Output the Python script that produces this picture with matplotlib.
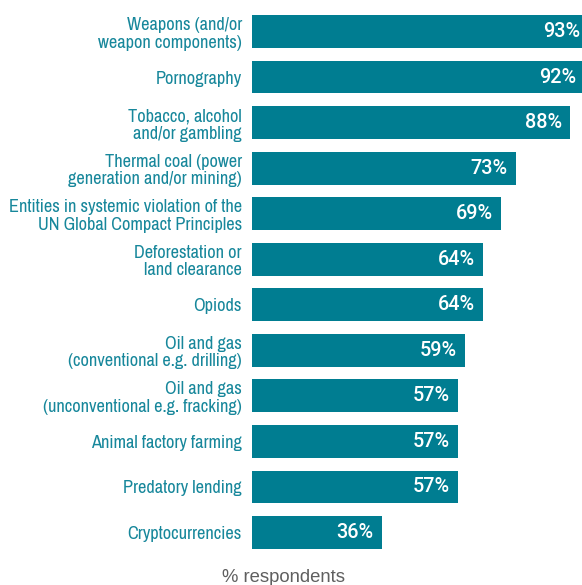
import matplotlib
matplotlib.use("Agg")
import matplotlib.pyplot as plt

# Survey results: share of respondents excluding each sector
categories = [
    "Weapons (and/or\nweapon components)",
    "Pornography",
    "Tobacco, alcohol\nand/or gambling",
    "Thermal coal (power\ngeneration and/or mining)",
    "Entities in systemic violation of the\nUN Global Compact Principles",
    "Deforestation or\nland clearance",
    "Opiods",
    "Oil and gas\n(conventional e.g. drilling)",
    "Oil and gas\n(unconventional e.g. fracking)",
    "Animal factory farming",
    "Predatory lending",
    "Cryptocurrencies",
]
values = [93, 92, 88, 73, 69, 64, 64, 59, 57, 57, 57, 36]
value_labels = [f"{v}%" for v in values]
axis_title = "% respondents"

BAR_COLOR = "#007d91"
LABEL_COLOR = "#17879b"
TITLE_COLOR = "#5f5f5f"

label_family = ["Archivo Narrow", "Liberation Sans", "DejaVu Sans"]

fig = plt.figure(figsize=(5.82, 5.85), dpi=100)
# axes spans the bar area; the right edge of the figure trims the longest bars
ax = fig.add_axes([252 / 582, 1 - 555.3 / 585, 1 - 252 / 582, 546.6 / 585])

y = list(range(len(categories)))
ax.barh(y, values, height=0.72, color=BAR_COLOR)

ax.set_xlim(0, 330 / 3.614)
ax.set_ylim(len(categories) - 0.5, -0.5)

ax.set_yticks(y)
ax.set_yticklabels(categories, family=label_family, fontsize=13.2,
                   color=LABEL_COLOR, linespacing=1.12)
ax.tick_params(axis="y", length=0, pad=7.3)
ax.set_xticks([])
for s in ax.spines.values():
    s.set_visible(False)

for yi, v, txt in zip(y, values, value_labels):
    ax.annotate(txt, xy=(v, yi), xytext=(-6, 0), textcoords="offset points",
                ha="right", va="center", color="white", fontsize=14.3,
                family=["Roboto", "DejaVu Sans"], fontweight="medium",
                annotation_clip=False)

fig.text(283 / 582, 1 - 577 / 585, axis_title, ha="center", va="center",
         fontsize=13.3, color=TITLE_COLOR, family=["Liberation Sans", "DejaVu Sans"])

fig.savefig("out.png", dpi=100)
